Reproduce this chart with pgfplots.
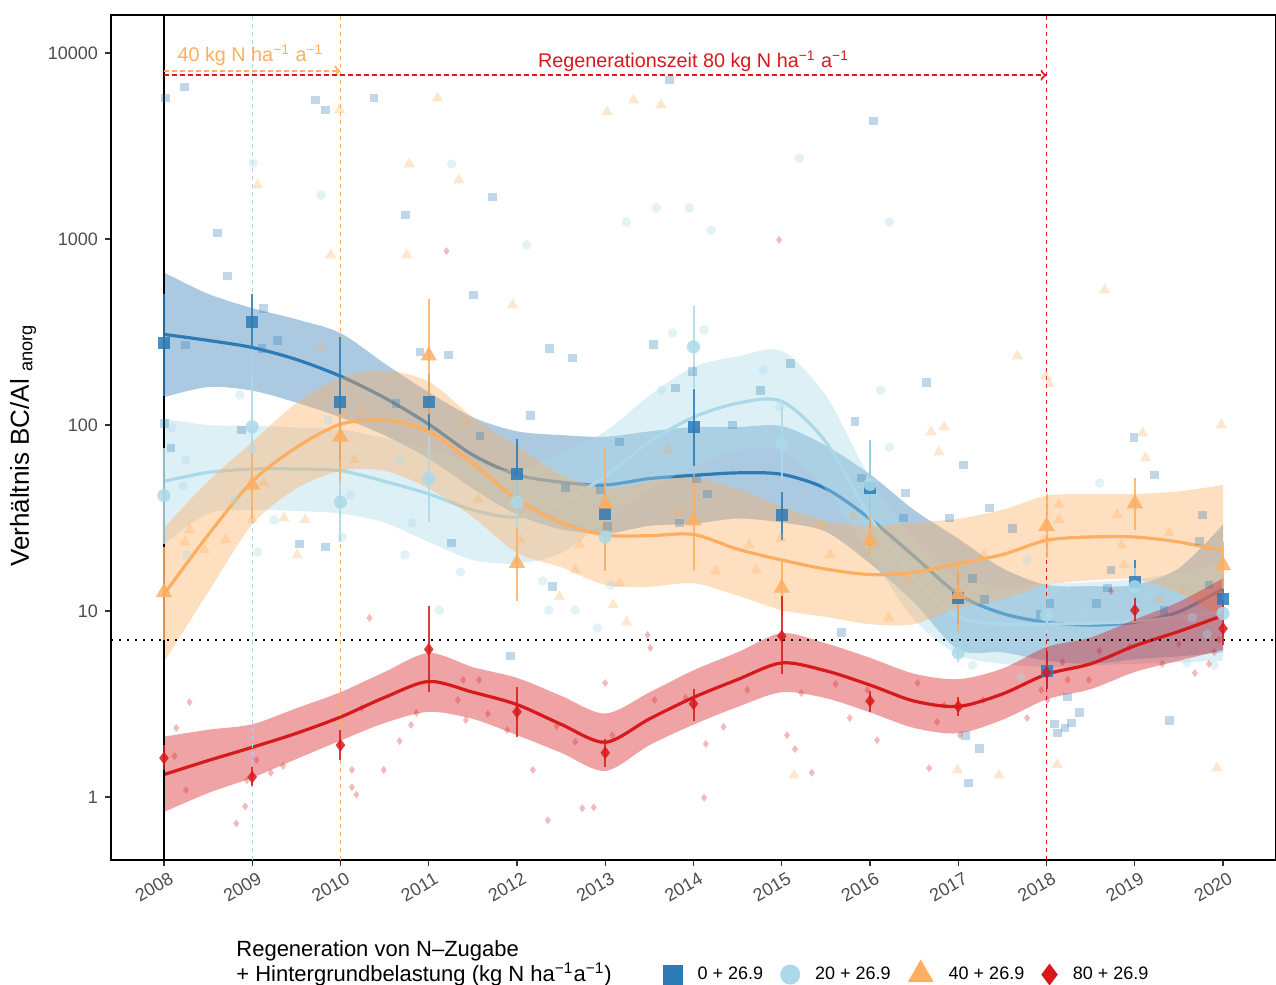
\documentclass[border=0pt]{standalone}
\usepackage{fontspec}
\setmainfont{Liberation Sans}
\usepackage{pgfplots}
\pgfplotsset{compat=1.18}
\usepackage{pgfplotstable}
\usepgfplotslibrary{fillbetween}

\definecolor{cBlue}{HTML}{2C7BB6}
\definecolor{cLBlue}{HTML}{ABD9E9}
\definecolor{cOrange}{HTML}{FDAE61}
\definecolor{cRed}{HTML}{D7191C}
\definecolor{tickgray}{HTML}{4D4D4D}

% smoothed curves: x, fit, lower, upper
\pgfplotstableread{
x y lo hi
2008 307 141 661
2008.5 285 160 507
2009 261 153 425
2009.5 225 132 370
2010 183 110 312
2010.5 140 88 214
2011 101 66 150
2011.5 69 45.5 110
2012 54 33 92.5
2012.5 49.3 27.5 88.3
2013 47.6 26 86.4
2013.5 51.5 28.7 92.4
2014 53.6 29.4 97.5
2014.5 55.3 31.4 97.5
2015 54.3 29.9 98.7
2015.5 45.5 26.7 77.4
2016 31.3 18 54.3
2016.5 19.7 11.1 34.9
2017 12.3 6.2 24.5
2017.5 9.7 6.0 17
2018 8.7 5.4 13.8
2018.5 8.4 5.2 13.6
2019 8.7 5.5 13.8
2019.5 9.9 5.7 17
2020 13.2 6.0 29.2
}\crvBlue
\pgfplotstableread{
x y lo hi
2008 49.8 22.9 108
2008.5 55.6 33.4 100
2009 58 34.9 99
2009.5 58 34.5 97
2010 56.8 33.4 94.5
2010.5 49.8 29.9 85
2011 42.6 23.5 74
2011.5 34.9 18.8 62
2012 32 18 57
2012.5 38.1 20.5 70.8
2013 53.1 30.5 92.4
2013.5 81 45 144
2014 110 59.6 205
2014.5 131 73 234
2015 134 72 250
2015.5 81 45 144
2016 32 20 51.9
2016.5 15 9 24
2017 9.3 5.8 15
2017.5 8.5 5.2 13.5
2018 8.5 5.0 14
2018.5 8.6 5.1 14.3
2019 8.8 5.2 14.8
2019.5 9.3 5.3 16
2020 9.9 5.4 18
}\crvLBlue
\pgfplotstableread{
x y lo hi
2008 12.3 5.33 28
2008.5 25.6 12.6 49.8
2009 49.7 29.2 81
2009.5 75.7 45.5 131
2010 101 56.7 179
2010.5 106 56.7 196
2011 92.4 45.5 171
2011.5 62 32 110
2012 39.9 20.5 77
2012.5 29.9 17.2 54.3
2013 25.6 13.8 45.5
2013.5 25.4 13.5 49.8
2014 25.8 14.1 52
2014.5 21.5 12.1 45.5
2015 18.8 10.1 36.5
2015.5 16.8 9.3 30.5
2016 15.7 8.5 28.6
2016.5 16.1 8.5 29.9
2017 18 10.4 31.3
2017.5 20.1 11.5 35
2018 24 13.8 41.7
2018.5 25 14.6 42.5
2019 25 14.8 42.6
2019.5 23.5 12.5 44
2020 21 9.3 47.6
}\crvOrange
\pgfplotstableread{
x y lo hi
2008 1.32 0.83 2.11
2008.5 1.57 1.05 2.3
2009 1.85 1.27 2.46
2009.5 2.2 1.6 3.0
2010 2.69 2.01 3.66
2010.5 3.43 2.5 4.7
2011 4.18 2.87 5.95
2011.5 3.66 2.63 4.99
2012 3.14 2.15 4.37
2012.5 2.46 1.73 3.5
2013 1.97 1.38 2.81
2013.5 2.63 1.9 3.65
2014 3.43 2.45 4.8
2014.5 4.28 3.05 6.0
2015 5.26 3.66 7.6
2015.5 4.77 3.4 6.7
2016 4.0 2.85 5.6
2016.5 3.28 2.35 4.6
2017 3.07 2.2 4.3
2017.5 3.58 2.6 4.9
2018 4.57 3.35 6.4
2018.5 5.2 3.8 7.2
2019 6.5 4.7 9.0
2019.5 7.77 5.4 11.2
2020 9.47 6.2 15
}\crvRed

% yearly means with error range
\pgfplotstableread{
x y lo hi
2008 276 144 507
2009 359 256 507
2010 133 59 298
2011 133 94 188
2012 54.3 35 84.6
2013 33.1 25 44
2014 97.5 60 157
2015 32.7 24 43.6
2016 45.9 28 82.6
2017 11.8 8.5 16
2018 4.77 3.83 5.95
2019 14.4 11 18.8
2020 11.6 9 15
}\meanBlue
\pgfplotstableread{
x y lo hi
2008 41.7 23 75
2009 97.8 55 175
2010 38.5 23.4 63
2011 51.5 30 88.7
2012 38.5 28 54
2013 25 16.4 38
2014 263 159 434
2015 80 50 126
2016 48 31 83
2017 5.95 5.3 6.5
2018 9.5 7.5 12
2019 13.5 10.5 17
2020 9.7 7.5 12.5
}\meanLBlue
\pgfplotstableread{
x y lo hi
2008 12.6 7 22
2009 47.6 31.3 70.8
2010 86.4 49.8 115
2011 236 115 474
2012 18.1 11.3 28
2013 37.7 16.5 74
2014 30.6 16.5 54.3
2015 13.3 9.5 18.5
2016 24 20.1 32.5
2017 12.3 7.8 18.3
2018 28.6 19.2 42.6
2019 37.8 27.4 52
2020 17.6 13.2 23.5
}\meanOrange
\pgfplotstableread{
x y lo hi
2008 1.62 1.4 1.9
2009 1.28 1.15 1.45
2010 1.9 1.58 2.3
2011 6.22 3.66 10.6
2012 2.87 2.1 3.9
2013 1.73 1.45 2.06
2014 3.17 2.57 3.83
2015 7.33 4.57 12.1
2016 3.28 2.87 3.73
2017 3.07 2.74 3.43
2018 4.67 3.83 6.1
2019 10.1 8.85 11.8
2020 8.04 6.6 11.5
}\meanRed

% single observations
\pgfplotstableread{
x y
2008.02 5730
2008.23 6560
2008.61 1077
2008.72 632
2008.02 269
2008.24 269
2008.01 102
2008.08 75.2
2008.88 94
2009.11 259
2009.13 421
2009.29 286
2009.72 5590
2009.83 4940
2010.38 5730
2010.74 1346
2011.72 1683
2011.51 500
2010.90 247
2011.22 238
2010.63 130
2009.54 22.9
2009.83 22.1
2011.26 23.2
2011.58 87.3
2012.15 112
2012.37 259
2012.63 229
2012.55 45.8
2012.94 44.8
2012.40 13.5
2011.93 5.73
2013.03 28.6
2013.16 81
2013.55 272
2013.73 7160
2013.80 158
2013.99 193
2014.03 51.2
2013.84 29.7
2014.16 42.6
2014.44 100
2014.76 154
2015.10 215
2016.04 4310
2015.83 104
2015.90 51.9
2016.40 43.1
2016.38 31.6
2016.64 170
2016.90 31.6
2017.06 61
2017.16 15
2017.61 27.9
2017.35 35.8
2017.93 9.6
2018.04 11
2018.09 2.47
2018.12 2.21
2018.21 2.35
2018.28 2.5
2018.37 2.86
2018.24 3.45
2017.12 1.19
2017.24 1.83
2018.99 86
2019.22 53.8
2019.39 2.59
2018.57 11
2018.69 13.3
2019.73 23.8
2019.77 32.8
2019.84 13.8
2019.33 10.1
2018.73 16.6
2015.68 7.7
2017.08 2.15
2017.30 11.5
}\ptsBlue
\pgfplotstableread{
x y
2008.09 96.4
2008.25 64.9
2008.22 47
2008.26 20
2009.01 2560
2009.00 73.4
2008.80 39.5
2008.86 145
2009.06 20.8
2009.25 30.9
2009.78 1725
2009.86 106
2010.11 42
2010.02 25
2010.67 64.9
2010.73 20
2010.81 29.7
2011.26 2530
2011.12 10.1
2011.36 16.2
2012.11 929
2012.36 10.1
2012.29 14.5
2012.66 10.1
2012.91 8.1
2013.06 13.8
2013.24 1234
2013.58 1469
2013.64 154
2013.76 312
2013.95 1469
2014.12 324
2014.20 1117
2014.79 198
2015.20 2724
2014.98 126
2016.22 1234
2016.12 154
2016.22 76
2017.01 6.6
2017.16 5.1
2016.95 7.4
2017.71 4.4
2018.10 13
2018.43 10.1
2018.60 48.8
2019.16 12.2
2019.65 9.2
2019.82 7.5
2019.90 5.1
2019.59 5.3
2018.06 7.0
2017.67 11.7
2017.78 18.8
}\ptsLBlue
\pgfplotstableread{
x y
2008.24 23.5
2008.29 27.3
2008.46 21.3
2008.70 24.1
2009.06 1950
2009.00 30.9
2009.13 48.8
2009.36 31.6
2009.51 20
2009.60 30.9
2009.78 259
2009.99 4940
2010.03 113
2010.16 64.9
2009.89 820
2010.24 120
2010.78 2530
2010.75 820
2011.10 5730
2011.34 2076
2011.41 104
2011.56 39.5
2011.95 442
2012.04 24.1
2012.48 11.9
2012.66 16.6
2012.71 22.6
2013.02 4820
2013.09 10.8
2013.32 5590
2013.63 5250
2013.16 14.1
2013.24 8.7
2013.71 73.4
2013.82 34
2014.25 16.4
2014.46 4.7
2014.63 22.6
2014.71 16.6
2014.99 24.4
2015.14 1.31
2015.45 29
2015.55 20
2015.81 32.4
2016.21 9.2
2016.42 14.7
2016.69 91.7
2016.84 97.5
2016.78 71.6
2016.99 1.4
2017.29 20
2017.67 235
2017.99 183
2018.03 166
2018.12 1.49
2018.14 37.2
2018.66 532
2018.80 32.8
2018.85 22.6
2018.88 17.7
2019.09 90.6
2019.12 66.5
2019.39 26.3
2019.98 100
2019.93 1.43
2019.54 13
2017.46 1.31
2017.97 24.1
2019.28 11.5
2018.14 30.9
}\ptsOrange
\pgfplotstableread{
x y
2008.14 2.35
2008.29 3.24
2008.12 1.66
2008.25 1.09
2008.82 0.72
2008.92 0.89
2008.94 1.23
2009.05 1.58
2009.21 1.35
2009.35 1.47
2010.13 1.4
2010.13 1.13
2010.18 1.03
2010.24 3.01
2010.33 9.17
2010.49 1.4
2010.67 2.0
2010.80 2.44
2010.86 2.83
2011.20 861
2011.33 3.32
2011.39 4.26
2011.42 2.59
2011.57 4.26
2011.67 2.8
2011.89 2.29
2012.18 1.4
2012.35 0.75
2012.45 2.41
2012.66 1.98
2012.74 0.87
2012.87 0.88
2013.00 4.1
2013.08 2.15
2013.48 7.43
2013.51 6.33
2013.56 3.32
2013.91 3.41
2014.14 1.93
2014.12 0.99
2014.34 2.38
2014.61 3.76
2014.97 988
2015.06 2.15
2015.15 1.81
2015.22 3.62
2015.34 1.35
2015.61 4.05
2015.77 2.66
2015.97 3.76
2016.08 2.02
2016.54 4.1
2016.76 2.53
2016.84 3.12
2016.67 1.43
2017.94 3.76
2018.01 3.32
2017.78 2.66
2018.24 4.26
2018.60 6.1
2018.73 12.8
2018.94 6.4
2019.50 6.65
2019.68 4.64
2019.90 6.02
2019.31 5.19
2019.84 5.19
2019.95 6.98
2018.18 5.32
2018.48 4.26
2017.28 3.32
2017.02 2.15
}\ptsRed

\begin{document}
\begin{tikzpicture}
\begin{axis}[
  at={(0pt,0pt)}, anchor=south west,
  scale only axis, width=582.5pt, height=422.5pt,
  ymode=log, log basis y=10,
  xmin=2007.4, xmax=2020.6, ymin=0.4585, ymax=16005,
  xtick={2008,2009,2010,2011,2012,2013,2014,2015,2016,2017,2018,2019,2020},
  xticklabels={2008,2009,2010,2011,2012,2013,2014,2015,2016,2017,2018,2019,2020},
  ytick={1,10,100,1000,10000},
  yticklabels={1,10,100,1000,10000},
  yminorticks=false, xminorticks=false,
  tick align=outside, xtick pos=lower, ytick pos=lower,
  major tick length=3pt,
  tick style={color=black!80, line width=0.6pt},
  ticklabel style={font=\fontsize{9}{10}\selectfont, color=tickgray},
  xticklabel style={rotate=30, anchor=north east, xshift=1.5pt, yshift=-2.5pt, inner sep=1pt},
  axis line style={line width=0.8pt},
  ylabel={Verhältnis BC/Al \textsubscript{anorg}},
  ylabel style={at={(axis description cs:-0.0755,0.4905)}, anchor=center, font=\fontsize{13}{15}\selectfont},
  clip=false,
  fill between/on layer=main,
  legend style={at={(axis description cs:0.468,-0.1337)}, anchor=west, draw=none, fill=none,
    font=\fontsize{9}{10}\selectfont,
    /tikz/every odd column/.append style={column sep=5.5pt},
    /tikz/every even column/.append style={column sep=6.5pt}},
  legend columns=4, legend cell align=left,
]
% legend keys
\addlegendimage{only marks, mark=square*, mark size=5pt, color=cBlue, mark options={draw opacity=0}}
\addlegendentry{0 + 26.9}
\addlegendimage{only marks, mark=*, mark size=5pt, color=cLBlue, mark options={draw opacity=0}}
\addlegendentry{20 + 26.9}
\addlegendimage{only marks, mark=triangle*, mark size=7.5pt, color=cOrange, mark options={draw opacity=0}}
\addlegendentry{40 + 26.9}
\addlegendimage{only marks, mark=diamond*, mark size=5.5pt, color=cRed, mark options={draw opacity=0}}
\addlegendentry{80 + 26.9}

% single observations
\addplot[only marks, mark=square*, mark size=2.2pt, color=cBlue, opacity=0.3, mark options={draw opacity=0}, forget plot] table[x=x,y=y] {\ptsBlue};
\addplot[only marks, mark=*, mark size=2.4pt, color=cLBlue, opacity=0.35, mark options={draw opacity=0}, forget plot] table[x=x,y=y] {\ptsLBlue};
\addplot[only marks, mark=triangle*, mark size=3.3pt, color=cOrange, opacity=0.3, mark options={draw opacity=0}, forget plot] table[x=x,y=y] {\ptsOrange};
\addplot[only marks, mark=diamond*, mark size=2pt, color=cRed, opacity=0.3, mark options={draw opacity=0}, forget plot] table[x=x,y=y] {\ptsRed};

% smooth fits with ribbons
\addplot[name path=bHi, draw=none, smooth, forget plot] table[x=x,y=hi] {\crvBlue};
\addplot[name path=bLo, draw=none, smooth, forget plot] table[x=x,y=lo] {\crvBlue};
\addplot[fill=cBlue, fill opacity=0.4, draw=none, forget plot] fill between[of=bHi and bLo];
\addplot[smooth, color=cBlue, line width=1.6pt, forget plot] table[x=x,y=y] {\crvBlue};

\addplot[name path=lHi, draw=none, smooth, forget plot] table[x=x,y=hi] {\crvLBlue};
\addplot[name path=lLo, draw=none, smooth, forget plot] table[x=x,y=lo] {\crvLBlue};
\addplot[fill=cLBlue, fill opacity=0.4, draw=none, forget plot] fill between[of=lHi and lLo];
\addplot[smooth, color=cLBlue, line width=1.6pt, forget plot] table[x=x,y=y] {\crvLBlue};

\addplot[name path=oHi, draw=none, smooth, forget plot] table[x=x,y=hi] {\crvOrange};
\addplot[name path=oLo, draw=none, smooth, forget plot] table[x=x,y=lo] {\crvOrange};
\addplot[fill=cOrange, fill opacity=0.4, draw=none, forget plot] fill between[of=oHi and oLo];
\addplot[smooth, color=cOrange, line width=1.6pt, forget plot] table[x=x,y=y] {\crvOrange};

\addplot[name path=rHi, draw=none, smooth, forget plot] table[x=x,y=hi] {\crvRed};
\addplot[name path=rLo, draw=none, smooth, forget plot] table[x=x,y=lo] {\crvRed};
\addplot[fill=cRed, fill opacity=0.4, draw=none, forget plot] fill between[of=rHi and rLo];
\addplot[smooth, color=cRed, line width=1.6pt, forget plot] table[x=x,y=y] {\crvRed};

% reference lines
\addplot[black, line width=0.8pt, forget plot] coordinates {(2008,0.4585) (2008,16005)};
\addplot[cLBlue, line width=0.5pt, dash pattern=on 2pt off 2pt, forget plot] coordinates {(2009,0.4585) (2009,16005)};
\addplot[cOrange, line width=0.5pt, dash pattern=on 2pt off 2pt, forget plot] coordinates {(2010,0.4585) (2010,16005)};
\addplot[cRed, line width=0.5pt, dash pattern=on 2pt off 2pt, forget plot] coordinates {(2018,0.4585) (2018,16005)};
\addplot[black, line width=0.9pt, dash pattern=on 0.8pt off 3.2pt, forget plot] coordinates {(2007.4,7) (2020.6,7)};

% yearly means
\addplot[only marks, mark=square*, mark size=3pt, color=cBlue, opacity=0.85, mark options={draw opacity=0}, forget plot,
  error bars/.cd, y dir=both, y explicit, error mark=none, error bar style={line width=1pt}]
  table[x=x, y=y, y error plus expr=\thisrow{hi}-\thisrow{y}, y error minus expr=\thisrow{y}-\thisrow{lo}] {\meanBlue};
\addplot[only marks, mark=*, mark size=3.3pt, color=cLBlue, opacity=0.85, mark options={draw opacity=0}, forget plot,
  error bars/.cd, y dir=both, y explicit, error mark=none, error bar style={line width=1pt}]
  table[x=x, y=y, y error plus expr=\thisrow{hi}-\thisrow{y}, y error minus expr=\thisrow{y}-\thisrow{lo}] {\meanLBlue};
\addplot[only marks, mark=triangle*, mark size=4.7pt, color=cOrange, opacity=0.85, mark options={draw opacity=0}, forget plot,
  error bars/.cd, y dir=both, y explicit, error mark=none, error bar style={line width=1pt}]
  table[x=x, y=y, y error plus expr=\thisrow{hi}-\thisrow{y}, y error minus expr=\thisrow{y}-\thisrow{lo}] {\meanOrange};
\addplot[only marks, mark=diamond*, mark size=3.2pt, color=cRed, opacity=0.85, mark options={draw opacity=0}, forget plot,
  error bars/.cd, y dir=both, y explicit, error mark=none, error bar style={line width=1pt}]
  table[x=x, y=y, y error plus expr=\thisrow{hi}-\thisrow{y}, y error minus expr=\thisrow{y}-\thisrow{lo}] {\meanRed};

% annotations
\draw[cOrange, line width=1pt, dash pattern=on 2.5pt off 1.5pt, ->] (axis cs:2008,8000) -- (axis cs:2010,8000);
\draw[cRed, line width=1pt, dash pattern=on 2.5pt off 1.5pt, ->] (axis cs:2008,7600) -- (axis cs:2018,7600);
\node[cOrange, font=\fontsize{9.9}{11}\selectfont] at (axis cs:2008.98,9700) {40 kg N ha\textsuperscript{−1} a\textsuperscript{−1}};
\node[cRed, font=\fontsize{9.9}{11}\selectfont] at (axis cs:2014.0,9000) {Regenerationszeit 80 kg N ha\textsuperscript{−1} a\textsuperscript{−1}};

% legend title
\node[anchor=west, align=left, font=\fontsize{11}{11.5}\selectfont, inner sep=0pt] at (axis description cs:0.1073,-0.1225)
  {Regeneration von N–Zugabe\\+ Hintergrundbelastung (kg N ha\textsuperscript{−1}a\textsuperscript{−1})};
\end{axis}
\pgfresetboundingbox
\path (-55.5pt,-62.5pt) rectangle (582.5pt,430pt);
\end{tikzpicture}
\end{document}
